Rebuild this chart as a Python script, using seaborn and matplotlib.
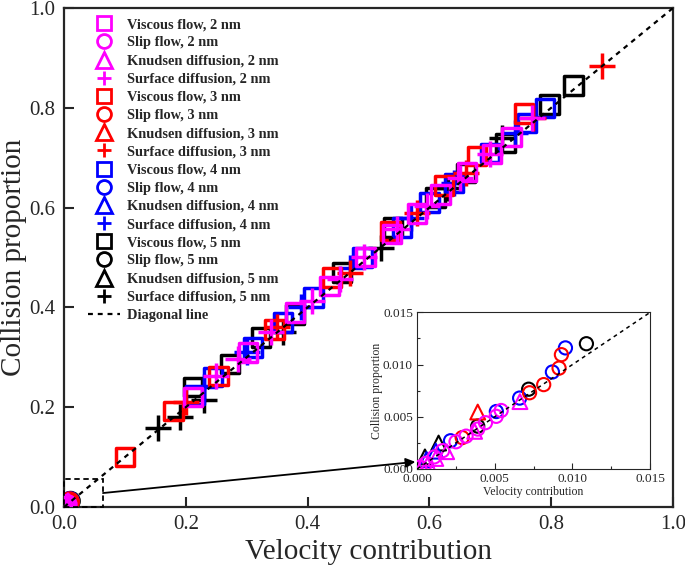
import numpy as np
import pandas as pd
import matplotlib
matplotlib.use("Agg")
import matplotlib.pyplot as plt
import seaborn as sns
from matplotlib.lines import Line2D
from matplotlib.patches import Rectangle, ConnectionPatch

# --- data (velocity contribution, collision proportion) ---
sizes = ["2 nm", "3 nm", "4 nm", "5 nm"]
colors = ["#ff00ff", "#ff0000", "#0000ff", "#000000"]

# viscous flow (squares)
visc_x_2 = [0.212, 0.302, 0.379, 0.436, 0.495, 0.539, 0.580, 0.618, 0.662, 0.703, 0.735]
visc_y_2 = [0.221, 0.310, 0.390, 0.443, 0.501, 0.547, 0.588, 0.626, 0.672, 0.708, 0.742]
visc_x_3 = [0.100, 0.180, 0.254, 0.346, 0.440, 0.536, 0.624, 0.678, 0.755]
visc_y_3 = [0.100, 0.192, 0.262, 0.356, 0.460, 0.553, 0.644, 0.704, 0.789]
visc_x_4 = [0.215, 0.245, 0.310, 0.360, 0.410, 0.490, 0.555, 0.600, 0.640, 0.700, 0.760, 0.790]
visc_y_4 = [0.225, 0.260, 0.320, 0.370, 0.420, 0.500, 0.560, 0.610, 0.650, 0.710, 0.770, 0.800]
visc_x_5 = [0.212, 0.273, 0.324, 0.379, 0.457, 0.540, 0.610, 0.660, 0.725, 0.797, 0.837]
visc_y_5 = [0.240, 0.286, 0.340, 0.386, 0.470, 0.560, 0.620, 0.670, 0.730, 0.807, 0.845]

# surface diffusion (plus)
surf_x_2 = [0.250, 0.286, 0.340, 0.408, 0.453, 0.493, 0.547, 0.596, 0.650, 0.700, 0.768]
surf_y_2 = [0.262, 0.296, 0.350, 0.412, 0.457, 0.501, 0.557, 0.604, 0.660, 0.708, 0.779]
surf_x_3 = [0.200, 0.350, 0.470, 0.580, 0.660, 0.770, 0.884]
surf_y_3 = [0.210, 0.360, 0.470, 0.590, 0.670, 0.780, 0.883]
surf_x_4 = [0.230, 0.300, 0.390, 0.470, 0.570, 0.640, 0.740]
surf_y_4 = [0.240, 0.310, 0.400, 0.480, 0.580, 0.650, 0.750]
surf_x_5 = [0.155, 0.190, 0.230, 0.360, 0.520, 0.630, 0.720]
surf_y_5 = [0.159, 0.180, 0.215, 0.350, 0.520, 0.640, 0.740]

# slip flow (circles)
slip_x_2 = [0.00017, 0.00056, 0.0011, 0.00164, 0.0025, 0.00315, 0.0039, 0.0044, 0.00509, 0.00541]
slip_y_2 = [0.00017, 0.00053, 0.00115, 0.00175, 0.0026, 0.00314, 0.00382, 0.00443, 0.00504, 0.0056]
slip_x_3 = [0.0029, 0.00724, 0.00815, 0.00914, 0.00929]
slip_y_3 = [0.0030, 0.0073, 0.00808, 0.00966, 0.01095]
slip_x_4 = [0.00215, 0.0051, 0.0066, 0.00871, 0.00955]
slip_y_4 = [0.0027, 0.0055, 0.00679, 0.00929, 0.0116]
slip_x_5 = [0.0039, 0.00718, 0.0109]
slip_y_5 = [0.0041, 0.00764, 0.0120]

# Knudsen diffusion (triangles)
knud_x_2 = [0.0003, 0.0007, 0.0012, 0.0019, 0.0037, 0.00662]
knud_y_2 = [0.0002, 0.0005, 0.0010, 0.00165, 0.0036, 0.00645]
knud_x_3 = [0.0039]
knud_y_3 = [0.00545]
knud_x_4 = [0.0006, 0.0012]
knud_y_4 = [0.0009, 0.0017]
knud_x_5 = [0.0005, 0.00138]
knud_y_5 = [0.00115, 0.00248]

visc = [(visc_x_2, visc_y_2), (visc_x_3, visc_y_3), (visc_x_4, visc_y_4), (visc_x_5, visc_y_5)]
slip = [(slip_x_2, slip_y_2), (slip_x_3, slip_y_3), (slip_x_4, slip_y_4), (slip_x_5, slip_y_5)]
knud = [(knud_x_2, knud_y_2), (knud_x_3, knud_y_3), (knud_x_4, knud_y_4), (knud_x_5, knud_y_5)]
surf = [(surf_x_2, surf_y_2), (surf_x_3, surf_y_3), (surf_x_4, surf_y_4), (surf_x_5, surf_y_5)]

sns.set_style("ticks")
plt.rcParams['font.family'] = ['Liberation Serif', 'DejaVu Serif']

fig = plt.figure(figsize=(6.85, 5.67), dpi=100)
ax = fig.add_axes([0.0934, 0.1058, 0.889, 0.880])
ins = fig.add_axes([0.609, 0.173, 0.340, 0.276])


def draw(a, scale, lw):
    # largest pore first so magenta ends up on top
    for i in [3, 2, 1, 0]:
        c = colors[i]
        x, y = visc[i]
        sns.scatterplot(x=x, y=y, ax=a, marker='s', s=175 * scale, facecolor='none',
                        edgecolor=c, linewidth=lw, zorder=3)
        x, y = surf[i]
        sns.scatterplot(x=x, y=y, ax=a, marker='+', s=360 * scale, color=c,
                        linewidth=lw, zorder=3)
    for i in [3, 2, 1, 0]:
        c = colors[i]
        x, y = slip[i]
        sns.scatterplot(x=x, y=y, ax=a, marker='o', s=150 * scale, facecolor='none',
                        edgecolor=c, linewidth=lw, zorder=3)
        x, y = knud[i]
        sns.scatterplot(x=x, y=y, ax=a, marker='^', s=190 * scale, facecolor='none',
                        edgecolor=c, linewidth=lw, zorder=3)


# main plot
draw(ax, 1.0, 2.5)
ax.plot([0, 1], [0, 1], ls=(0, (2.2, 2.2)), color='k', lw=1.6, zorder=4)
ax.set_xlim(0, 1)
ax.set_ylim(0, 1)
ax.set_xticks([0, 0.2, 0.4, 0.6, 0.8, 1.0])
ax.set_yticks([0, 0.2, 0.4, 0.6, 0.8, 1.0])
ax.set_xticklabels(["0.0", "0.2", "0.4", "0.6", "0.8", "1.0"])
ax.set_yticklabels(["0.0", "0.2", "0.4", "0.6", "0.8", "1.0"])
ax.tick_params(direction='in', length=7, width=1.5, labelsize=15, pad=6)
ax.set_xlabel("Velocity contribution", fontsize=21, labelpad=3)
ax.set_ylabel("Collision proportion", fontsize=21, labelpad=2)
for sp in ax.spines.values():
    sp.set_linewidth(1.6)

# zoom box and arrow
ax.add_patch(Rectangle((0, 0), 0.064, 0.057, fill=False, ls=(0, (3, 2)), lw=1.3,
                       ec='k', zorder=5, clip_on=False))
con = ConnectionPatch(xyA=(0.064, 0.028), coordsA=ax.transData,
                      xyB=(-0.008, 0.045), coordsB=ins.transAxes,
                      arrowstyle='-|>', mutation_scale=14, lw=1.3, color='k', zorder=6)
fig.add_artist(con)

# legend
markers = ['s', 'o', '^', '+']
names = ["Viscous flow", "Slip flow", "Knudsen diffusion", "Surface diffusion"]
handles = []
for i, sz in enumerate(sizes):
    for m, n in zip(markers, names):
        handles.append(Line2D([], [], ls='none', marker=m, markersize=10 if m != '^' else 11,
                              markerfacecolor='none', markeredgecolor=colors[i],
                              color=colors[i], markeredgewidth=2.0,
                              label=f"{n}, {sz}"))
handles.append(Line2D([], [], color='k', ls=(0, (2.2, 2.2)), lw=1.6, label="Diagonal line"))
ax.legend(handles=handles, loc='upper left', bbox_to_anchor=(0.023, 1.0), frameon=False,
          prop={'weight': 'bold', 'size': 10.4}, labelspacing=0.35, handlelength=2.2,
          handletextpad=0.5, borderaxespad=0.3)

# inset
draw(ins, 0.6, 1.5)
ins.plot([0, 0.015], [0, 0.015], ls=(0, (2.5, 2.5)), color='k', lw=1.1, zorder=4)
ins.set_xlim(0, 0.015)
ins.set_ylim(0, 0.015)
ins.set_xticks([0, 0.005, 0.010, 0.015])
ins.set_yticks([0, 0.005, 0.010, 0.015])
ins.set_xticklabels(["0.000", "0.005", "0.010", "0.015"])
ins.set_yticklabels(["0.000", "0.005", "0.010", "0.015"])
ins.set_xticks([0.0025, 0.0075, 0.0125], minor=True)
ins.set_yticks([0.0025, 0.0075, 0.0125], minor=True)
ins.tick_params(which='both', direction='in', labelsize=9.5, width=0.8, pad=3)
ins.tick_params(which='major', length=4)
ins.tick_params(which='minor', length=2)
ins.set_xlabel("Velocity contribution", fontsize=8.5, labelpad=1)
ins.set_ylabel("Collision proportion", fontsize=8.5, labelpad=0)
for sp in ins.spines.values():
    sp.set_linewidth(0.8)

fig.savefig("out.png", dpi=100)
